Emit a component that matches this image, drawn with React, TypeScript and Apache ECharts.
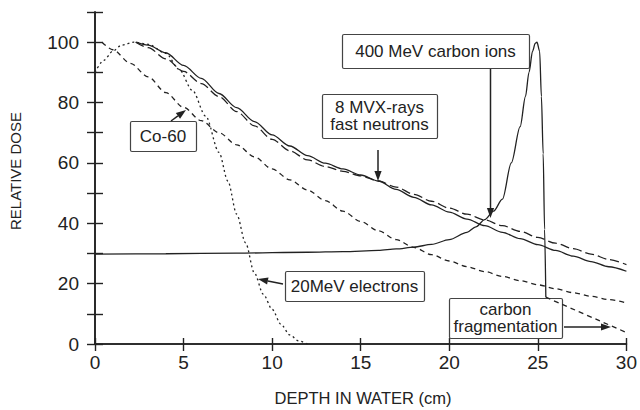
import React, { useEffect, useRef } from "react";
import * as echarts from "echarts";

// depth (cm), relative dose
const co60: number[][] = [[0.4,100],[1,97.5],[2,93],[3,88.5],[4,83.3],[5,78.4],[6,74],[7,70],[8,66],[9,62],[10,58],[11,54.4],[12,51],[13,47.5],[14,44],[15,40.6],[16,37.5],[17,34.6],[18,32],[19,29.6],[20,27.5],[21,25.6],[22,24],[23,22.4],[24,21],[25,19.6],[26,18.3],[27,17],[28,15.8],[29,14.7],[30,13.6]];
const electrons: number[][] = [[0,90],[0.5,94],[1,97],[1.5,99],[2.2,100],[3,99.3],[4,96.3],[4.75,91],[5.5,84],[6.25,75.5],[7,63.5],[7.5,54],[8,43],[8.5,33.5],[9,23.5],[9.5,16.5],[10,11.5],[10.5,6.5],[11,3],[11.5,1],[12,0]];
const xrays: number[][] = [[2.3,100],[3,98.2],[4,94.5],[5,90.3],[6,86.3],[7,82],[8,77],[9,72.3],[10,67.8],[11,64],[12,61],[13,58.8],[14,57.2],[15,55.7],[16,54],[17,52],[18,49.6],[19,47.3],[20,45],[21,43],[22,41.1],[23,39.2],[24,37.3],[25,35.3],[26,33.4],[27,31.6],[28,29.8],[29,28],[30,26.3]];
const neutrons: number[][] = [[2.3,100],[3,99],[4,96.5],[5,92.3],[6,88],[7,83],[8,78.3],[9,73.7],[10,69.3],[11,65.6],[12,62.4],[13,59.9],[14,58],[15,56],[16,54],[17,51.2],[18,48.6],[19,46.1],[20,43.7],[21,41.4],[22,39.2],[23,37],[24,34.9],[25,32.9],[26,31],[27,29.1],[28,27.3],[29,25.6],[30,24.1]];
const carbon: number[][] = [[0,29.8],[4,29.9],[8,30.1],[12,30.4],[14,30.6],[16,31],[17,31.5],[18,32.1],[19,33],[20,34.6],[21,37],[21.5,38.8],[22,41.2],[22.5,44],[23,48],[23.5,60],[24,72],[24.3,82],[24.5,90],[24.7,97],[24.85,99.6],[24.95,100],[25.1,97],[25.2,82],[25.3,63],[25.38,38],[25.45,15.5]];
const fragmentation: number[][] = [[25.45,15.5],[30,3.8]];

const xTicks = { min: 0, max: 30, interval: 5 };
const yTicks = { min: 0, max: 110, interval: 10, labelStep: 20, labelMax: 100 };

const FONT = "'Liberation Sans', Arial, Helvetica, sans-serif";
const INK = "#222";

function arrow(x1: number, y1: number, x2: number, y2: number) {
  const dx = x2 - x1, dy = y2 - y1;
  const len = Math.sqrt(dx * dx + dy * dy);
  const ux = dx / len, uy = dy / len;
  const hl = 10, hw = 3.6;
  const bx = x2 - ux * hl, by = y2 - uy * hl;
  return [
    { type: "line", z: 5, shape: { x1, y1, x2: bx, y2: by }, style: { stroke: INK, lineWidth: 1.5 } },
    { type: "polygon", z: 5, shape: { points: [[x2, y2], [bx - uy * hw, by + ux * hw], [bx + uy * hw, by - ux * hw]] }, style: { fill: INK } },
  ];
}

function box(x: number, y: number, w: number, h: number) {
  return { type: "rect", z: 1, shape: { x: x + 0.5, y: y + 0.5, width: w, height: h, r: 1.5 }, style: { fill: "#fff", stroke: "#444", lineWidth: 1.2 } };
}

function label(text: string, x: number, y: number, size = 16.5, rotation = 0) {
  return { type: "text", z: 6, x, y, rotation, style: { text, fill: INK, fontSize: size, fontFamily: FONT, textAlign: "center", textVerticalAlign: "middle" } };
}

export default function App() {
  const ref = useRef<HTMLDivElement>(null);
  useEffect(() => {
    if (!ref.current) return;
    document.body.style.margin = "0";
    const chart = echarts.init(ref.current, undefined, { renderer: "svg" });
    const axisLine = { show: true, lineStyle: { color: INK, width: 1.6 } };
    const line = (data: number[][], type: any, width = 1.3) => ({
      type: "line", data, showSymbol: false, symbol: "none", smooth: 0.3, smoothMonotone: "x",
      lineStyle: { color: INK, width, type }, z: 3,
    });
    chart.setOption({
      animation: false,
      textStyle: { fontFamily: FONT },
      grid: { left: 95, right: 8.5, top: 12, bottom: 66 },
      xAxis: [
        { type: "value", position: "bottom", ...xTicks, axisLine, axisTick: { show: true, length: 7, lineStyle: { color: INK, width: 1.4 } }, axisLabel: { fontSize: 19, color: INK, margin: 9, showMaxLabel: true, showMinLabel: true }, splitLine: { show: false } },
        { type: "value", position: "top", ...xTicks, axisLine, axisTick: { show: true, length: 6, lineStyle: { color: INK, width: 1.4 } }, axisLabel: { show: false }, splitLine: { show: false } },
      ],
      yAxis: [
        { type: "value", position: "left", min: yTicks.min, max: yTicks.max, interval: yTicks.interval, axisLine, axisTick: { show: true, length: 8, lineStyle: { color: INK, width: 1.4 } }, axisLabel: { fontSize: 19, color: INK, margin: 16, formatter: (v: number) => (v % yTicks.labelStep === 0 && v <= yTicks.labelMax ? String(v) : "") }, splitLine: { show: false } },
        { type: "value", position: "right", min: yTicks.min, max: yTicks.max, interval: yTicks.interval, axisLine, axisTick: { show: true, length: 8, lineStyle: { color: INK, width: 1.4 } }, axisLabel: { show: false }, splitLine: { show: false } },
      ],
      series: [
        line(co60, [5, 4]),
        line(electrons, [2, 3]),
        line(xrays, [9, 4]),
        line(neutrons, "solid"),
        line(carbon, "solid"),
        line(fragmentation, [5, 4]),
      ],
      graphic: { elements: [
        label("RELATIVE DOSE", 15.5, 171, 15, Math.PI / 2),
        label("DEPTH IN WATER (cm)", 363, 398, 16.5),
        box(130, 121, 66, 30), label("Co-60", 163, 136.5, 17),
        ...arrow(171, 121, 186, 110),
        box(322, 94, 115, 44), label("8 MVX-rays", 379.5, 107, 17), label("fast neutrons", 379.5, 124.5, 17),
        ...arrow(378, 150, 378, 181),
        box(342, 34, 187, 34), label("400 MeV carbon ions", 435.5, 51.5, 17),
        ...arrow(490.5, 69, 490.5, 218),
        box(285, 271, 139, 30), label("20MeV electrons", 354.5, 286.5, 17),
        ...arrow(283, 284, 258, 279),
        box(449, 298, 113, 40), label("carbon", 505.5, 309, 17), label("fragmentation", 505.5, 326.5, 17),
        ...arrow(564, 327, 611, 327),
      ] },
    });
    return () => chart.dispose();
  }, []);
  return <div ref={ref} style={{ position: "absolute", left: 0, top: 0, width: 640, height: 410 }} />;
}
